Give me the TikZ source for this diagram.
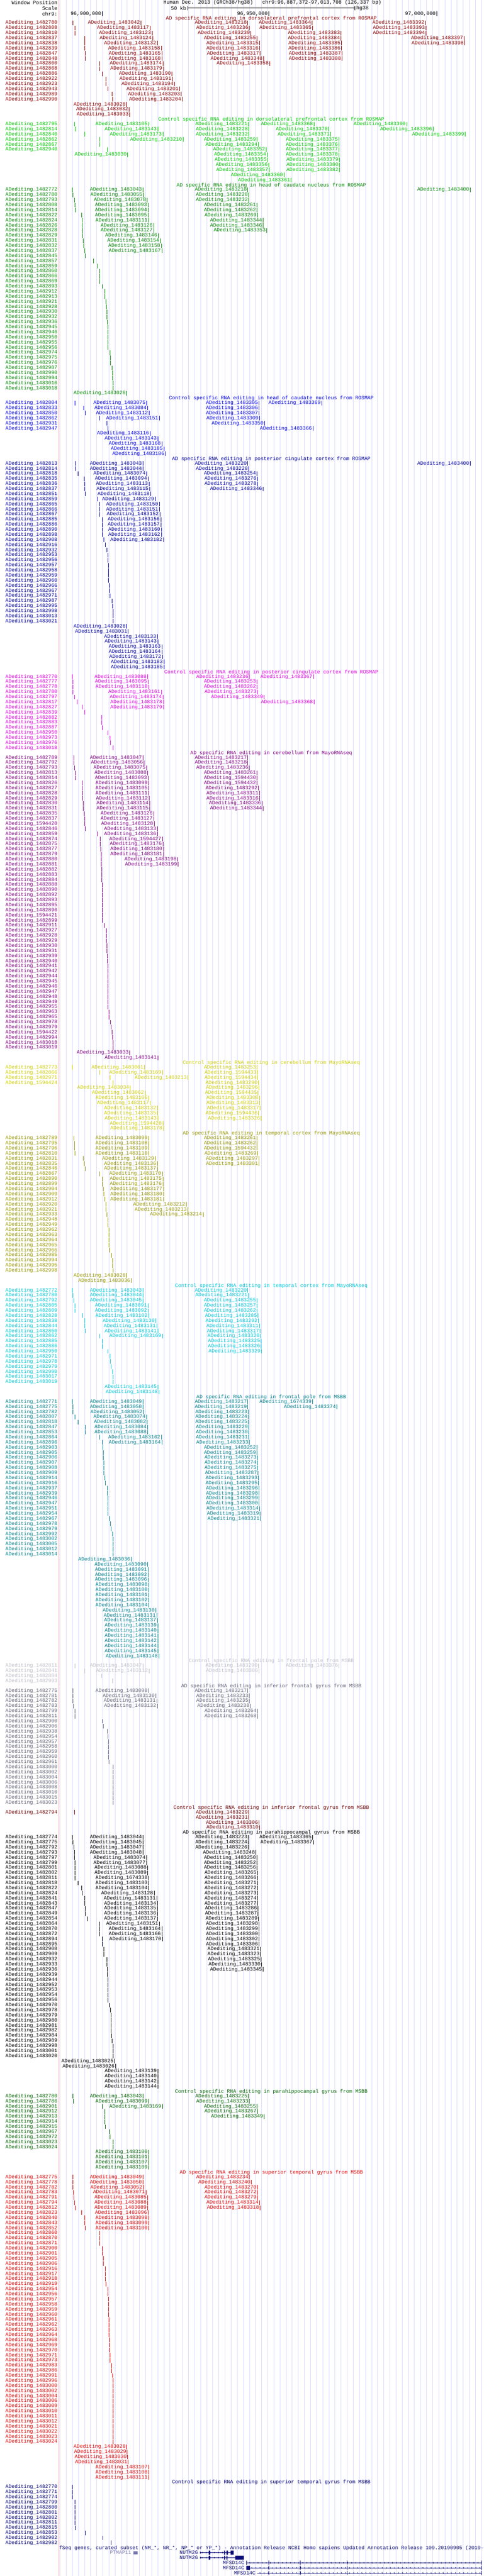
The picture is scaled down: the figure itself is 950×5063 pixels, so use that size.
\documentclass[tikz,border=0pt]{standalone}
\usepackage{fontspec}
\setmainfont{Liberation Mono}
\newif\ifdone
\def\anchors{770/142,780/143,800/147,808/147,815/148,822/160,837/167,853/168,860/196,871/196,886/201,900/201,916/207,922/208,943/212,954/212,968/215,989/220,991/221,1000/222,1024/222,1025/225,1026/227,1028/249,1036/258,1042/277,1043/281,1050/281,1074/288,1100/292,1111/292,1117/295,1128/303,1132/309,1145/310,1158/317,1167/318,1174/320,1185/322,1190/338,1199/350,1204/358,1210/360,1213/369,1217/487,1236/490,1250/505,1275/506,1300/509,1315/510,1321/512,1345/517,1348/518,1353/524,1358/530,1364/613,1368/617,1370/646,1375/666,1382/667,1383/670,1388/672,1390/799,1392/836,1394/837,1396/851,1397/912,1399/914,1400/924,0/0,}
\def\ipl#1/#2,{\ifnum#1=0 \else
  \ifdone\else
   \ifnum\nn=#1 \edef\tx{#2}\donetrue
   \else\ifnum\nn<#1 \edef\tx{\the\numexpr\px+(\nn-\pn)*(#2-\px)/(#1-\pn)\relax}\donetrue\fi\fi
   \def\pn{#1}\def\px{#2}%
  \fi
  \expandafter\ipl
 \fi}
\def\setsp#1#2{\expandafter\def\csname px@#1\endcsname{#2}}
\setsp{1594420}{167}\setsp{1594421}{201}\setsp{1594422}{220}\setsp{1594424}{222}
\setsp{1594427}{319}\setsp{1594428}{320}\setsp{1594430}{505}\setsp{1594432}{505}
\setsp{1594433}{506}\setsp{1594434}{506}\setsp{1594435}{507}\setsp{1594436}{508}
\setsp{1674338}{292}\setsp{1674339}{614}
\newcommand\getx[1]{\ifcsname px@#1\endcsname\edef\tx{\csname px@#1\endcsname}\else
  \edef\nn{\the\numexpr#1-1482000\relax}\def\pn{0}\def\px{0}\donefalse\def\tx{924}%
  \expandafter\ipl\anchors\fi}
\newcommand\R[1]{\foreach \id in {#1}{\getx{\id}%
  \ifnum\tx<224 \node[lbl,anchor=east] at (113,\cy) {ADediting\_\id};%
  \else \node[lbl,anchor=east] at (\tx-2,\cy) {ADediting\_\id};\fi
  \draw[tk] (\tx,\cy-4.5) -- (\tx,\cy+4.5);}%
  \xdef\cy{\the\numexpr\cy+10\relax}}
\newcommand\Rs[1]{\foreach \j in {#1}{\R{\j}}}
\newcommand\sect[2]{\colorlet{cur}{#1}\node[lbl,text=cur] at (533,\cy) {#2};\xdef\cy{\the\numexpr\cy+9\relax}}
\definecolor{c1}{RGB}{140,0,0}\definecolor{c2}{RGB}{0,200,0}\definecolor{c3}{RGB}{0,135,0}
\definecolor{c4}{RGB}{0,0,230}\definecolor{c5}{RGB}{0,0,160}\definecolor{c6}{RGB}{225,0,225}
\definecolor{c7}{RGB}{130,0,130}\definecolor{c8}{RGB}{205,205,0}\definecolor{c9}{RGB}{150,150,0}
\definecolor{c10}{RGB}{0,200,215}\definecolor{c11}{RGB}{0,130,140}\definecolor{c12}{RGB}{190,190,200}
\definecolor{c13}{RGB}{100,100,120}\definecolor{c14}{RGB}{110,0,0}\definecolor{c15}{RGB}{0,0,0}
\definecolor{c16}{RGB}{0,100,0}\definecolor{c17}{RGB}{220,0,0}\definecolor{c18}{RGB}{0,0,120}
\definecolor{gene}{RGB}{12,12,120}\definecolor{pseudo}{RGB}{120,120,175}
\definecolor{gridc}{RGB}{218,218,255}\definecolor{pinkc}{RGB}{255,170,170}
\begin{document}
\begin{tikzpicture}[x=1pt,y=-1pt,
  lbl/.style={font=\fontsize{10}{10}\selectfont,inner sep=0pt,text=cur},
  tk/.style={draw=cur,line width=1pt},
  gl/.style={draw=gene,line width=0.8pt},
  ex/.style={fill=gene}]
\colorlet{cur}{black}
\useasboundingbox (0,0) rectangle (950,5063);
\fill[white] (0,0) rectangle (950,5063);
\foreach \k in {0,...,69} \draw[gridc,line width=0.8pt] ({118+12*\k},0) -- ++(0,5063);
\draw[pinkc,line width=0.8pt] (116,0) -- (116,5063);
% header
\node[lbl,anchor=east] (wp) at (113,5) {Window Position};
\node[lbl,anchor=east] (sc) at (113,16) {Scale};
\node[lbl,anchor=east] (ch) at (113,27) {chr9:};
\node[lbl,anchor=west] (hd) at (321,5) {Human Dec. 2013 (GRCh38/hg38)\ \ \ chr9:96,887,372-97,013,708 (126,337 bp)};
\node[lbl,anchor=east] (kb) at (366,16) {50 kb};
\draw[line width=0.8pt] (369,16) -- (697,16) (369,12) -- (369,20) (697,12) -- (697,20);
\node[lbl,anchor=west] (hg) at (700,16) {hg38};
\foreach \p/\t in {201/{96,900,000},528/{96,950,000},858/{97,000,000}}{
  \node[lbl,anchor=east] at (\p-2,27) {\t};
  \draw[line width=0.8pt] (\p,22) -- (\p,31);}
\xdef\cy{36}
% 1
\sect{c1}{AD specific RNA editing in dorsolateral prefrontal cortex from ROSMAP}
\R{1482780,1483042,1483218,1483364,1483392}
\R{1482808,1483117,1483236,1483365,1483393}
\R{1482810,1483123,1483239,1483383,1483394}
\R{1482837,1483124,1483255,1483384,1483397}
\R{1482838,1483132,1483315,1483385,1483398}
\R{1482839,1483158,1483316,1483386}
\R{1482847,1483165,1483317,1483387}
\R{1482848,1483168,1483348,1483388}
\R{1482860,1483174,1483358}
\R{1482868,1483179}\R{1482886,1483190}\R{1482922,1483191}\R{1482923,1483194}
\R{1482943,1483201}\R{1482989,1483203}\R{1482990,1483204}
\Rs{1483028,1483032,1483033}
% 2
\sect{c2}{Control specific RNA editing in dorsolateral prefrontal cortex from ROSMAP}
\R{1482795,1483105,1483221,1483368,1483390}
\R{1482814,1483143,1483228,1483370,1483396}
\R{1482840,1483173,1483232,1483371,1483399}
\R{1482862,1483210,1483259,1483375}
\R{1482867,1483294,1483376}
\R{1482940,1483352,1483377}
\R{1483030,1483354,1483378}
\R{1483355,1483379}\R{1483356,1483380}\R{1483357,1483382}
\Rs{1483360,1483361}
% 3
\sect{c3}{AD specific RNA editing in head of caudate nucleus from ROSMAP}
\R{1482772,1483043,1483218,1483400}
\R{1482780,1483055,1483228}
\R{1482793,1483078,1483232}
\R{1482808,1483093,1483261}
\R{1482814,1483094,1483262}
\R{1482822,1483095,1483269}
\R{1482824,1483111,1483344}
\R{1482826,1483126,1483346}
\R{1482828,1483127,1483353}
\R{1482829,1483146}\R{1482831,1483154}\R{1482832,1483158}\R{1482837,1483167}
\Rs{1482845,1482857,1482859,1482860,1482866,1482869,1482893,1482912,1482913,1482921,1482928,1482930,1482932,1482936,1482945,1482946,1482950,1482955,1482956,1482974,1482975,1482976,1482987,1482990,1482994,1483016,1483018,1483028}
% 4
\sect{c4}{Control specific RNA editing in head of caudate nucleus from ROSMAP}
\R{1482804,1483075,1483305,1483369}
\R{1482833,1483084,1483306}
\R{1482850,1483112,1483307}
\R{1482862,1483151,1483309}
\R{1482931,1483350}\R{1482947,1483366}
\Rs{1483116,1483143,1483168,1483185,1483186}
% 5
\sect{c5}{AD specific RNA editing in posterior cingulate cortex from ROSMAP}
\R{1482813,1483043,1483220,1483400}
\R{1482814,1483044,1483228}
\R{1482818,1483074,1483254}
\R{1482835,1483094,1483276}
\R{1482836,1483113,1483278}
\R{1482837,1483115,1483346}
\R{1482851,1483118}\R{1482859,1483129}\R{1482865,1483150}\R{1482866,1483151}
\R{1482867,1483152}\R{1482885,1483156}\R{1482886,1483157}\R{1482890,1483160}
\R{1482898,1483162}\R{1482908,1483182}
\Rs{1482916,1482932,1482953,1482956,1482957,1482958,1482959,1482960,1482966,1482967,1482971,1482987,1482995,1482998,1483013,1483021,1483028,1483031,1483133,1483143,1483163,1483164,1483172,1483183,1483185}
% 6
\sect{c6}{Control specific RNA editing in posterior cingulate cortex from ROSMAP}
\R{1482770,1483088,1483236,1483367}
\R{1482777,1483095,1483253}
\R{1482778,1483110,1483262}
\R{1482780,1483161,1483273}
\R{1482797,1483174,1483349}
\R{1482817,1483178,1483368}
\R{1482827,1483179}
\Rs{1482839,1482882,1482883,1482887,1482950,1482973,1482976,1483018}
% 7
\sect{c7}{AD specific RNA editing in cerebellum from MayoRNAseq}
\R{1482789,1483047,1483217}
\R{1482792,1483056,1483218}
\R{1482793,1483075,1483236}
\R{1482813,1483088,1483261}
\R{1482814,1483093,1594430}
\R{1482826,1483099,1594432}
\R{1482827,1483105,1483292}
\R{1482828,1483111,1483311}
\R{1482829,1483112,1483316}
\R{1482830,1483114,1483336}
\R{1482831,1483115,1483344}
\R{1482835,1483126}\R{1482837,1483127}\R{1594420,1483128}\R{1482846,1483133}
\R{1482859,1483136}\R{1482874,1594427}\R{1482875,1483176}\R{1482877,1483180}
\R{1482879,1483181}\R{1482880,1483198}\R{1482881,1483199}
\Rs{1482882,1482883,1482884,1482888,1482890,1482892,1482893,1482895,1482896,1594421,1482899,1482911,1482927,1482928,1482929,1482930,1482931,1482939,1482940,1482941,1482942,1482944,1482945,1482946,1482947,1482948,1482949,1482955,1482963,1482965,1482978,1482979,1594422,1482994,1483018,1483019,1483033,1483141}
% 8
\sect{c8}{Control specific RNA editing in cerebellum from MayoRNAseq}
\R{1482773,1483061,1483253}
\R{1482866,1483169,1594433}
\R{1482971,1483213,1594434}
\R{1594424,1483290}
\R{1483034,1483296}\R{1483062,1594435}\R{1483106,1483308}\R{1483117,1483313}
\R{1483132,1483317}\R{1483135,1594436}\R{1483143,1483326}
\Rs{1594428,1483178}
% 9
\sect{c9}{AD specific RNA editing in temporal cortex from MayoRNAseq}
\R{1482789,1483099,1483261}
\R{1482795,1483108,1483262}
\R{1482796,1483109,1594432}
\R{1482810,1483110,1483269}
\R{1482831,1483129,1483297}
\R{1482835,1483136,1483301}
\R{1482846,1483137}\R{1482867,1483170}\R{1482890,1483175}\R{1482899,1483176}
\R{1482904,1483177}\R{1482909,1483180}\R{1482912,1483181}\R{1482920,1483212}
\R{1482921,1483213}\R{1482933,1483214}
\Rs{1482948,1482949,1482962,1482963,1482964,1482965,1482966,1482985,1482994,1482995,1482998,1483028,1483036}
% 10
\sect{c10}{Control specific RNA editing in temporal cortex from MayoRNAseq}
\R{1482772,1483043,1483220}
\R{1482780,1483044,1483221}
\R{1482792,1483045,1483255}
\R{1482805,1483091,1483257}
\R{1482809,1483092,1483262}
\R{1482828,1483102,1483285}
\R{1482838,1483130,1483292}
\R{1482844,1483131,1483311}
\R{1482850,1483141,1483317}
\R{1482862,1483169,1483320}
\R{1482885,1483325}\R{1482886,1483326}\R{1482950,1483329}
\Rs{1482971,1482978,1482979,1482990,1483017,1483019,1483145,1483148}
% 11
\sect{c11}{AD specific RNA editing in frontal pole from MSBB}
\R{1482771,1483049,1483217,1674339}
\R{1482775,1483050,1483219,1483374}
\R{1482782,1483052,1483223}
\R{1482807,1483074,1483224}
\R{1482818,1483082,1483225}
\R{1482847,1483084,1483229}
\R{1482853,1483088,1483230}
\R{1482864,1483162,1483231}
\R{1482896,1483164,1483233}
\R{1482903,1483252}\R{1482905,1483259}\R{1482906,1483273}\R{1482907,1483274}
\R{1482908,1483275}\R{1482909,1483287}\R{1482914,1483293}\R{1482916,1483295}
\R{1482937,1483296}\R{1482939,1483298}\R{1482946,1483299}\R{1482947,1483300}
\R{1482951,1483314}\R{1482954,1483319}\R{1482967,1483321}
\Rs{1482978,1482979,1482992,1483002,1483005,1483012,1483014,1483036,1483090,1483091,1483092,1483096,1483098,1483100,1483101,1483102,1483104,1483130,1483131,1483137,1483139,1483140,1483141,1483142,1483144,1483145,1483148}
% 12
\sect{c12}{Control specific RNA editing in frontal pole from MSBB}
\R{1482811,1483047,1483290,1483376}
\R{1482841,1483112,1483306}
\Rs{1482884,1482993}
% 13
\sect{c13}{AD specific RNA editing in inferior frontal gyrus from MSBB}
\R{1482775,1483098,1483217}
\R{1482781,1483130,1483233}
\R{1482782,1483131,1483235}
\R{1482783,1483132,1483238}
\R{1482799,1483264}\R{1482811,1483268}
\Rs{1482900,1482906,1482938,1482954,1482957,1482958,1482959,1482960,1482961,1483000,1483002,1483004,1483006,1483008,1483010,1483015,1483023}
% 14
\sect{c14}{Control specific RNA editing in inferior frontal gyrus from MSBB}
\R{1482794,1483229}
\Rs{1483231,1483306,1483310}
% 15
\sect{c15}{AD specific RNA editing in parahippocampal gyrus from MSBB}
\R{1482774,1483044,1483223,1483365}
\R{1482775,1483045,1483224,1483367}
\R{1482792,1483047,1483226}
\R{1482793,1483048,1483248}
\R{1482797,1483074,1483250}
\R{1482799,1483077,1483252}
\R{1482801,1483088,1483256}
\R{1482802,1483089,1483265}
\R{1482811,1674338,1483266}
\R{1482818,1483103,1483271}
\R{1482822,1483104,1483272}
\R{1482824,1483128,1483273}
\R{1482841,1483131,1483274}
\R{1482843,1483134,1483277}
\R{1482847,1483135,1483286}
\R{1482849,1483136,1483287}
\R{1482854,1483137,1483289}
\R{1482864,1483151,1483298}
\R{1482870,1483164,1483299}
\R{1482872,1483166,1483300}
\R{1482894,1483170,1483302}
\R{1482895,1483306}\R{1482908,1483321}\R{1482909,1483323}\R{1482932,1483325}
\R{1482933,1483330}\R{1482936,1483345}
\Rs{1482939,1482944,1482952,1482953,1482954,1482956,1482970,1482978,1482979,1482980,1482981,1482982,1482984,1482989,1482998,1483001,1483020,1483025,1483026,1483139,1483140,1483142,1483144}
% 16
\sect{c16}{Control specific RNA editing in parahippocampal gyrus from MSBB}
\R{1482780,1483043,1483225}
\R{1482786,1483099,1483233}
\R{1482901,1483169,1483255}
\R{1482912,1483267}\R{1482913,1483349}
\Rs{1482914,1482915,1482967,1482972,1483023,1483024,1483100,1483101,1483107,1483109}
% 17
\sect{c17}{AD specific RNA editing in superior temporal gyrus from MSBB}
\R{1482775,1483049,1483234}
\R{1482778,1483050,1483240}
\R{1482782,1483052,1483270}
\R{1482783,1483071,1483272}
\R{1482791,1483085,1483279}
\R{1482794,1483088,1483314}
\R{1482812,1483089,1483318}
\R{1482823,1483096}\R{1482840,1483098}\R{1482843,1483099}\R{1482852,1483100}
\Rs{1482860,1482870,1482871,1482900,1482901,1482905,1482906,1482916,1482917,1482918,1482919,1482954,1482956,1482957,1482958,1482959,1482960,1482961,1482962,1482963,1482964,1482968,1482969,1482970,1482971,1482973,1482983,1482986,1482991,1482996,1483000,1483002,1483004,1483006,1483009,1483010,1483011,1483012,1483021,1483022,1483023,1483024,1483028,1483029,1483030,1483031,1483107,1483108,1483111}
% 18
\sect{c18}{Control specific RNA editing in superior temporal gyrus from MSBB}
\Rs{1482770,1482771,1482774,1482799,1482800,1482801,1482802,1482811,1482815,1482853,1482902,1482982}
% RefSeq
\colorlet{cur}{gene}
\begin{scope}
\clip (117,0) rectangle (950,5063);
\node[lbl,anchor=west] (rs) at (116,5008) {fSeq genes, curated subset (NM\_*, NR\_*, NP\_* or YP\_*) - Annotation Release NCBI Homo sapiens Updated Annotation Release 109.20190905 (2019-09-05)};
\end{scope}
\node[lbl,text=pseudo,anchor=east] (pt) at (258,5017) {PTMAP11};
\fill[pseudo] (262,5014) rectangle (270,5020);
\node[lbl,anchor=east] (n1) at (389,5017) {NUTM2G};
\node[lbl,anchor=east] (n2) at (389,5027) {NUTM2G};
\node[lbl,anchor=east] (m1) at (480,5037) {MFSD14C};
\node[lbl,anchor=east] (m2) at (480,5047) {MFSD14C};
\node[lbl,anchor=east] (m3) at (502,5057) {MFSD14C};
\draw[gl] (393,5017) -- (459,5017) (393,5027) -- (479,5027) (484,5037) -- (947,5037) (484,5047) -- (947,5047) (505,5057) -- (947,5057);
\foreach \y/\a/\n in {5017/396/5,5027/396/5,5037/490/56,5047/494/56,5057/510/54}
  \foreach \i in {0,...,\n}{
    \pgfmathsetmacro\xx{\a+8*\i}
    \draw[gene,line width=0.5pt] (\xx+1.5,\y-1.5) -- (\xx,\y) -- (\xx+1.5,\y+1.5);}
\fill[gene] (393,5015) rectangle (394,5019) (410,5013) rectangle (413,5021) (440,5013) rectangle (442,5021) (445,5013) rectangle (448,5021) (453,5013) rectangle (459,5021);
\fill[gene] (393,5025) rectangle (394,5029) (410,5023) rectangle (413,5031) (440,5023) rectangle (442,5031) (445,5023) rectangle (447,5031) (462,5023) rectangle (479,5031);
\foreach \y in {5037,5047,5057}
  \foreach \xx in {528,589,681,946} \fill[gene] (\xx,\y-4) rectangle (\xx+1,\y+4);
\fill[gene] (484,5033) rectangle (485,5041) (484,5043) rectangle (491,5051);
\end{tikzpicture}
\end{document}
